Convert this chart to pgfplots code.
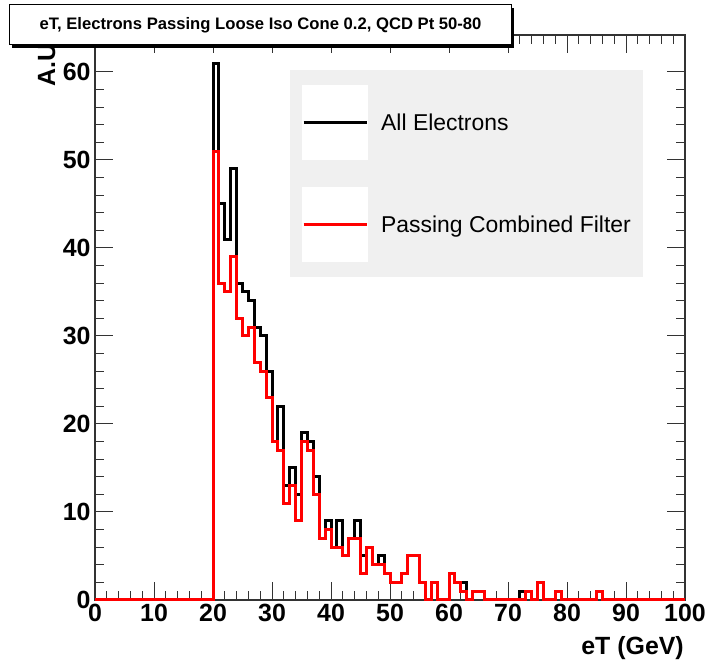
\documentclass[border=0pt]{standalone}
\usepackage{fontspec}
\setmainfont{Liberation Sans}
\usepackage{pgfplots}
\pgfplotsset{compat=1.18}
\definecolor{legendgray}{HTML}{F0F0F0}
\definecolor{rootred}{HTML}{FF0000}
\definecolor{framegray}{HTML}{333333}

% Electron eT spectra, 1 GeV bins (left edge, count)
\pgfplotstableread{
x y
0 0
20 61
21 45
22 41
23 49
24 36
25 35
26 34
27 31
28 30
29 26
30 18
31 22
32 13
33 15
34 12
35 19
36 18
37 14
38 7
39 9
40 6
41 9
42 5
43 7
44 9
45 5
46 6
47 4
48 5
49 3
50 2
51 2
52 3
53 5
54 5
55 2
56 0
57 2
58 0
60 3
61 2
62 2
63 0
64 1
66 0
72 1
73 1
74 0
75 2
76 0
78 1
79 0
85 1
86 0
100 0
}\allelectrons

\pgfplotstableread{
x y
0 0
20 51
21 36
22 35
23 39
24 32
25 30
26 31
27 27
28 26
29 23
30 18
31 17
32 11
33 13
34 9
35 18
36 17
37 12
38 7
39 8
40 6
41 6
42 5
43 7
44 7
45 3
46 6
47 4
48 4
49 3
50 2
51 2
52 3
53 5
54 5
55 2
56 0
57 2
58 0
60 3
61 2
62 1
63 0
64 1
66 0
73 1
74 0
75 2
76 0
78 1
79 0
85 1
86 0
100 0
}\passingfilter

\begin{document}
\begin{tikzpicture}[x=1bp,y=1bp]
\path[use as bounding box] (0,0) rectangle (706,663);
\begin{axis}[
  at={(95bp,63bp)}, anchor=south west,
  scale only axis, width=590bp, height=565bp,
  xmin=0, xmax=100, ymin=0, ymax=64.2,
  xtick={0,10,...,100}, ytick={0,10,...,60},
  minor x tick num=4, minor y tick num=4,
  tick align=inside,
  major tick length=18bp, minor tick length=9bp,
  every tick/.style={line width=1bp, framegray},
  axis line style={line width=1.2bp, framegray},
  /pgf/number format/assume math mode=true,
  ticklabel style={font=\bfseries\fontsize{25}{25}\selectfont},
  yticklabel style={xshift=-1bp},
  xticklabel style={yshift=-1bp},
  clip=false,
  legend style={at={(0.3305,0.938)}, anchor=north west,
    fill=legendgray, draw=none,
    inner xsep=12bp, inner ysep=15bp,
    row sep=27bp, column sep=13bp,
    nodes={inner sep=0pt},
    font=\fontsize{23}{23}\selectfont},
  legend cell align=left,
  legend image code/.code={
    \fill[white] (0bp,-36bp) rectangle (63bp,36bp);
    \draw[#1, line width=3bp] (0bp,0bp) -- (63bp,0bp);
  },
]
\addplot[const plot, black, line width=3bp, line join=miter] table[x=x,y=y] {\allelectrons};
\addlegendentry{All Electrons}
\addplot[const plot, rootred, line width=3bp, line join=miter] table[x=x,y=y] {\passingfilter};
\addlegendentry{Passing Combined Filter\hspace{6bp}}
\end{axis}

% y-axis title, partly hidden under the title pave
\node[rotate=90, anchor=base east, inner sep=0pt,
  font=\bfseries\fontsize{25}{25}\selectfont] at (55,627) {A.U.};
% x-axis title
\node[anchor=base east, inner sep=0pt,
  font=\bfseries\fontsize{25}{25}\selectfont] at (684,8) {eT (GeV)};

% title pave with its shadow
\fill[black] (12,615) rectangle (514,655);
\node[draw=black, line width=1bp, fill=white, minimum width=502bp,
  minimum height=40bp, inner sep=0pt,
  font=\bfseries\fontsize{16.7}{17}\selectfont] at (260.5,638)
  {eT, Electrons Passing Loose Iso Cone 0.2, QCD Pt 50-80};
\end{tikzpicture}
\end{document}
